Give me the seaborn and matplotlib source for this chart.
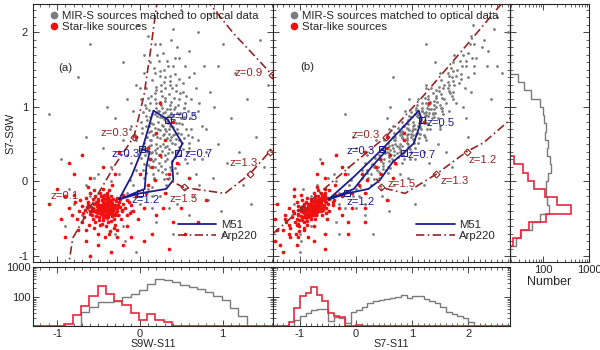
import numpy as np
import pandas as pd
import matplotlib
matplotlib.use("Agg")
import matplotlib.pyplot as plt
import seaborn as sns
from matplotlib.lines import Line2D
from matplotlib.ticker import MultipleLocator, LogLocator, NullFormatter

# ---- scatter data, panel (a) coordinates: (S9W-S11, S7-S9W) ----
gray_pts = [
    (0.22, 0.95), (0.31, 1.12), (0.18, 0.72), (0.40, 0.88), (0.27, 0.41), (0.12, 1.05), (0.35, 0.63), (0.05, 0.52), (0.44, 1.21), (0.29, 1.34),
    (0.16, 0.28), (0.38, 0.15), (0.21, 0.60), (0.51, 0.77), (0.09, 0.83), (0.33, 0.97), (0.25, 1.48), (0.47, 0.46), (0.02, 0.31), (0.19, 1.18),
    (0.36, 1.02), (0.14, 0.49), (0.28, 0.74), (0.55, 1.05), (0.07, 0.12), (0.42, 0.33), (0.24, 0.86), (0.31, 0.55), (0.11, 0.67), (0.49, 0.92),
    (0.20, 1.27), (0.37, 1.41), (0.26, 0.21), (0.58, 0.62), (0.04, 0.93), (0.33, 0.81), (0.17, 0.05), (0.45, 0.70), (0.23, 1.62), (0.39, 0.52),
    (0.13, 0.38), (0.30, 1.08), (0.52, 1.32), (0.08, 0.75), (0.27, 0.99), (0.43, 0.18), (0.35, 0.43), (0.19, 0.91), (0.61, 0.85), (0.00, 0.44),
    (0.24, 0.58), (0.41, 1.12), (0.15, 1.36), (0.32, 0.68), (0.48, 0.55), (0.10, 0.22), (0.29, 0.03), (0.36, 0.89), (0.21, 0.45), (0.54, 0.99),
    (0.06, 1.02), (0.26, 1.21), (0.44, 0.79), (0.18, 0.64), (0.34, 1.55), (0.39, 0.27), (0.12, 0.86), (0.57, 0.40), (0.23, 0.35), (0.31, 0.93),
    (0.46, 1.03), (0.16, 0.10), (0.28, 0.50), (0.50, 0.63), (0.03, 0.65), (0.37, 0.74), (0.20, 1.05), (0.42, 1.44), (0.25, 0.69), (0.14, 0.56),
    (0.33, 0.30), (0.53, 0.86), (0.09, 0.40), (0.30, 1.25), (0.47, 0.24), (0.22, 0.80), (0.38, 0.60), (0.62, 1.10), (0.13, 1.15), (0.27, 0.13),
    (0.41, 0.97), (0.18, 0.42), (0.35, 1.17), (0.05, 0.24), (0.29, 0.84), (0.56, 0.71), (0.21, 1.70), (0.44, 0.57), (0.11, 0.96), (0.34, 0.38),
    (0.26, 1.30), (0.49, 1.18), (0.16, 0.77), (0.31, 0.17), (0.40, 0.73), (0.07, 0.59), (0.24, 1.07), (0.59, 0.51), (0.19, 0.30), (0.36, 1.30),
    (0.28, 0.62), (0.45, 0.92), (0.12, 0.19), (0.33, 0.48), (0.52, 0.44), (0.20, 0.98), (0.38, 1.06), (0.08, 1.25), (0.27, 0.87), (0.43, 0.64),
    (0.17, 1.52), (0.31, 0.71), (0.48, 1.38), (0.01, 0.80), (0.23, 0.25), (0.37, 0.97), (0.14, 0.68), (0.55, 0.30), (0.30, 0.46), (0.25, 1.85),
    (0.20, 0.50), (0.34, 0.78), (0.15, 0.90), (0.42, 1.00), (0.26, 0.33), (0.09, 0.60), (0.37, 0.20), (0.30, 1.40), (0.50, 0.85), (0.18, 1.10),
    (0.45, 0.40), (0.22, 0.70), (0.06, 0.35), (0.39, 1.25), (0.28, 0.92), (0.54, 0.58), (0.13, 0.78), (0.32, 0.10), (0.47, 1.10), (0.24, 1.42),
    (0.36, 0.55), (0.11, 0.48), (0.41, 0.82), (0.19, 0.20), (0.58, 0.95), (0.27, 1.15), (0.03, 0.72), (0.49, 0.35), (0.33, 1.62), (0.16, 0.62),
    (0.43, 0.50), (0.21, 0.88), (0.62, 0.70), (0.08, 0.98), (0.35, 0.05), (0.29, 0.64), (0.52, 1.20), (0.14, 0.30), (0.40, 1.55), (0.25, 0.47),
    (0.57, 0.25), (0.10, 1.12), (0.31, 0.36), (0.46, 0.65), (0.18, 1.45), (0.38, 0.92), (0.04, 0.15), (0.27, 0.76), (0.53, 0.98), (0.22, 0.15),
    (0.44, 1.30), (0.12, 0.55), (0.35, 0.70), (0.60, 0.45), (0.20, 1.22), (0.30, 0.28), (0.48, 0.78), (0.07, 0.88), (0.39, 0.40), (0.26, 1.02),
    (0.65, 0.90), (0.15, 0.40), (0.42, 1.65), (0.33, 0.58), (0.01, 1.10), (0.51, 0.52), (0.23, 0.95), (0.37, 1.35), (0.17, 0.03), (0.45, 0.12),
    (0.29, 1.50), (0.56, 1.15), (0.11, 0.75), (0.34, 0.88), (0.20, 0.38), (0.47, 0.90), (0.06, 0.45), (0.40, 0.62), (0.28, 1.72), (0.63, 0.60),
    (-0.05, 0.55), (0.70, 0.55), (0.00, 1.25), (0.68, 1.25), (-0.10, 0.25), (0.75, 0.75), (0.12, 1.60), (0.55, 1.55), (-0.08, 0.95), (0.72, 1.05),
    (0.18, 1.85), (0.60, 1.40), (0.38, 1.90), (0.05, 1.45), (0.80, 0.40), (-0.12, 0.70), (0.48, 1.65), (0.15, -0.08), (0.66, 0.30), (0.32, -0.15),
    (-0.15, 0.35), (0.70, 0.95), (-0.05, 1.30), (0.75, 0.30), (0.65, 1.45), (-0.25, 0.10), (0.80, 0.70), (-0.10, 0.75), (0.68, 0.10), (0.05, 1.70),
    (0.85, 1.20), (-0.20, 0.55), (0.72, -0.05), (0.45, 1.80), (-0.35, 0.20), (0.95, 0.50), (0.60, 1.75), (-0.08, -0.05), (0.90, 1.00), (0.10, 1.95),
    (-0.30, 0.85), (1.05, 0.25), (0.78, 1.55), (-0.15, 1.10), (0.40, 2.05), (0.88, 0.05), (-0.45, 0.45), (1.10, 0.85), (0.66, -0.20), (-0.02, 2.10),
    (0.55, -0.10), (1.20, 0.40), (-0.55, 0.05), (0.95, 1.55), (0.30, 2.20), (-0.40, 1.00), (1.30, 1.10), (0.82, -0.25), (-0.65, 0.60), (1.00, 1.85),
    (0.15, -0.20), (1.25, -0.05), (-0.75, 1.40), (0.50, 2.30), (1.40, 0.60), (-0.85, -0.10), (0.70, 2.00), (1.15, 1.45), (-0.20, 1.60), (0.98, -0.40),
    (1.45, 1.90), (-0.95, 0.30), (0.35, -0.35), (1.50, 0.20), (-0.60, 1.85), (0.20, -0.55), (1.35, -0.30), (-1.10, 0.90), (0.85, 2.25), (1.55, 1.30),
    (-0.30, -0.25), (-0.15, -0.15), (-0.45, -0.10), (0.00, -0.30), (-0.25, -0.45), (-0.55, -0.35), (0.10, -0.10), (-0.35, 0.00), (-0.10, -0.40), (-0.60, -0.20),
    (0.05, 0.05), (-0.20, -0.60), (-0.40, -0.50), (-0.05, 0.15), (-0.70, -0.45), (0.15, -0.35), (-0.50, 0.10), (-0.30, -0.70), (0.25, -0.20), (-0.65, -0.05),
    (-0.12, 0.02), (-0.80, -0.30), (0.32, -0.05), (-0.18, -0.80), (0.45, -0.30), (-0.90, -0.60), (0.60, -0.45), (-0.05, -0.95), (0.40, -0.70), (1.00, -0.70),
]

red_pts = [
    (-0.42, -0.35), (-0.38, -0.30), (-0.48, -0.38), (-0.35, -0.42), (-0.45, -0.28), (-0.52, -0.33), (-0.40, -0.40), (-0.33, -0.35), (-0.47, -0.44), (-0.44, -0.22),
    (-0.55, -0.40), (-0.36, -0.25), (-0.41, -0.48), (-0.30, -0.32), (-0.50, -0.26), (-0.39, -0.37), (-0.58, -0.35), (-0.27, -0.40), (-0.46, -0.31), (-0.34, -0.46),
    (-0.43, -0.18), (-0.53, -0.46), (-0.37, -0.33), (-0.62, -0.30), (-0.29, -0.26), (-0.49, -0.52), (-0.40, -0.27), (-0.32, -0.38), (-0.57, -0.24), (-0.44, -0.42),
    (-0.24, -0.34), (-0.51, -0.37), (-0.38, -0.55), (-0.66, -0.38), (-0.35, -0.20), (-0.46, -0.36), (-0.26, -0.45), (-0.60, -0.44), (-0.42, -0.30), (-0.31, -0.50),
    (-0.54, -0.20), (-0.40, -0.15), (-0.20, -0.30), (-0.48, -0.58), (-0.70, -0.33), (-0.36, -0.39), (-0.45, -0.47), (-0.28, -0.22), (-0.63, -0.27), (-0.33, -0.29),
    (-0.50, -0.42), (-0.22, -0.40), (-0.41, -0.60), (-0.56, -0.50), (-0.37, -0.12), (-0.73, -0.40), (-0.18, -0.36), (-0.47, -0.20), (-0.30, -0.58), (-0.60, -0.15),
    (-0.43, -0.33), (-0.52, -0.29), (-0.34, -0.35), (-0.39, -0.45), (-0.25, -0.28), (-0.67, -0.48), (-0.45, -0.10), (-0.15, -0.25), (-0.55, -0.62), (-0.36, -0.66),
    (-0.78, -0.28), (-0.12, -0.42), (-0.49, -0.32), (-0.40, -0.35), (-0.31, -0.43), (-0.58, -0.40), (-0.23, -0.50), (-0.44, -0.26), (-0.65, -0.22), (-0.38, -0.22),
    (-0.82, -0.45), (-0.20, -0.18), (-0.50, -0.70), (-0.28, -0.65), (-0.70, -0.55), (-0.10, -0.32), (-0.62, -0.08), (-0.33, -0.05), (-0.85, -0.35), (-0.42, -0.75),
    (-0.41, -0.36), (-0.44, -0.34), (-0.39, -0.32), (-0.47, -0.40), (-0.36, -0.37), (-0.50, -0.35), (-0.43, -0.29), (-0.40, -0.43), (-0.34, -0.31), (-0.53, -0.41),
    (-0.46, -0.25), (-0.38, -0.48), (-0.31, -0.36), (-0.55, -0.30), (-0.42, -0.39), (-0.48, -0.31), (-0.35, -0.28), (-0.45, -0.52), (-0.29, -0.41), (-0.57, -0.37),
    (-0.37, -0.44), (-0.51, -0.23), (-0.43, -0.45), (-0.32, -0.24), (-0.60, -0.39), (-0.40, -0.21), (-0.27, -0.35), (-0.49, -0.47), (-0.35, -0.53), (-0.53, -0.28),
    (-0.44, -0.38), (-0.38, -0.26), (-0.47, -0.34), (-0.33, -0.40), (-0.58, -0.45), (-0.42, -0.24), (-0.30, -0.45), (-0.52, -0.38), (-0.36, -0.31), (-0.64, -0.34),
    (-0.26, -0.31), (-0.46, -0.57), (-0.39, -0.18), (-0.54, -0.55), (-0.21, -0.38), (-0.68, -0.42), (-0.31, -0.62), (-0.48, -0.15), (-0.24, -0.24), (-0.61, -0.58),
    (-0.16, -0.45), (-0.72, -0.25), (-0.37, -0.70), (-0.55, -0.12), (-0.13, -0.28), (-0.76, -0.50), (-0.28, -0.75), (-0.65, -0.65), (-0.08, -0.40), (-0.80, -0.18),
    (-0.05, -0.20), (0.05, -0.35), (-0.90, -0.20), (-0.60, 0.05), (0.10, -0.05), (-0.75, -0.65), (-0.15, -0.60), (0.20, -0.45), (-0.95, -0.50), (-0.30, 0.10),
    (0.15, 0.20), (-0.50, -0.85), (0.30, -0.15), (-0.80, 0.10), (0.00, 0.10), (0.25, 0.35), (-0.20, -0.85), (-1.00, -0.10), (0.40, -0.55), (-0.65, -0.80),
    (0.10, 0.45), (0.35, 0.10), (-0.45, 0.20), (0.20, 0.65), (-0.10, -0.75), (0.45, 0.25), (-0.85, 0.25), (0.05, -0.80), (0.30, 0.55), (-0.35, -0.95),
    (0.50, -0.35), (-1.10, -0.30), (0.15, -0.70), (0.40, 0.80), (-0.70, 0.35), (0.60, 0.05), (-0.25, 0.40), (0.55, -0.70), (-0.90, -0.75), (0.70, -0.55),
    (0.25, 1.05), (-0.05, 0.60), (0.35, -0.90), (-0.60, -1.00), (0.80, -0.25), (0.18, 0.02), (0.08, -0.15), (-0.02, -0.50), (0.28, -0.35), (0.12, 0.30),
]

# ---- template tracks, panel (a) coordinates ----
m51_x = [-0.25, -0.10, 0.03, 0.165, 0.34, 0.515, 0.465, 0.39, 0.405, 0.32, 0.00, -0.25, 0.06, 0.08, 0.12, 0.03]
m51_y = [-0.24, 0.07, 0.43, 0.95, 0.83, 0.51, 0.385, 0.26, 0.02, -0.10, -0.16, -0.24, -0.10, 0.20, 0.40, 0.43]
m51_z_idx = [2, 4, 6, 10]          # z = 0.3, 0.5, 0.7, 1.2

arp_x = [-0.87, -0.81, -0.60, -0.30, -0.07, 0.05, 0.13, 0.20, 0.30, 0.60, 0.81, 1.13, 1.60, 1.85, 1.90, 1.75, 1.57, 1.33, 1.03, 0.53, 0.32]
arp_y = [-1.20, -0.76, -0.35, 0.22, 0.60, 1.15, 1.75, 2.34, 2.90, 2.80, 2.43, 1.99, 1.43, 1.10, 0.80, 0.52, 0.40, 0.10, -0.16, -0.08, 0.04]
arp_z_idx = [2, 4, 12, 16, 17, 19]  # z = 0.1, 0.3, 0.9, 1.2, 1.3, 1.5

# ---- histograms ----
bins_a = np.round(np.arange(-1.31, 1.70, 0.1), 2)
gray_hist_a = [0, 0, 0, 0, 0, 0, 33, 46, 67, 70, 74, 102, 125, 179, 282, 392, 363, 320, 249, 225,
               193, 150, 111, 80, 42, 24, 0, 0, 0, 0]
red_hist_a = [0, 0, 0, 0, 13, 25, 50, 108, 236, 129, 74, 54, 29, 17, 27, 17, 15, 0, 0, 0,
              0, 0, 0, 0, 0, 0, 0, 0, 0, 0]

bins_b = np.round(np.arange(-1.5, 2.81, 0.1), 2)
gray_hist_b = [0, 0, 0, 0, 17.5, 24, 29, 37, 40, 39, 16, 22.5, 20, 13.6, 31, 37, 48, 62, 74, 80,
               86, 95, 103, 116, 95, 108, 108, 90, 74, 62, 48, 31, 27, 24, 21, 15, 0, 0, 0, 0,
               0, 0, 0]
red_hist_b = [0, 0, 0, 14.6, 42, 111, 132, 219, 122, 74, 29, 24, 22, 0, 0, 12, 0, 0, 0, 0,
              0, 0, 0, 0, 0, 0, 0, 0, 0, 0, 0, 0, 0, 0, 0, 0, 0, 0, 0, 0,
              0, 0, 0]

bins_y = np.round(np.arange(-1.09, 2.44, 0.11), 2)
gray_hist_y = [0, 0, 26, 31, 56, 87, 135, 122, 114, 114, 129, 152, 140, 124, 129, 110, 114, 105, 100, 84.5,
               55.5, 37.7, 28.4, 0, 0, 0, 0, 0, 0, 0, 0, 0]
red_hist_y = [0, 0, 22, 33, 50, 118, 400, 196, 109, 62, 47, 36, 23, 0, 0, 0, 0, 0, 0, 0,
              0, 0, 0, 0, 0, 0, 0, 0, 0, 0, 0, 0]

GRAY = "#7c7c7c"
RED = "#f01010"
HRED = "#e8283c"
NAVY = "#1c1c8c"
BROWN = "#962424"
FS = 8.2

sns.set_theme(style="ticks")
plt.rcParams['font.family'] = ['Liberation Sans', 'DejaVu Sans']
plt.rcParams.update({
    "xtick.labelsize": 8, "ytick.labelsize": 8, "axes.labelsize": 8,
    "axes.linewidth": 0.8, "xtick.direction": "in", "ytick.direction": "in",
    "axes.unicode_minus": False,
})

gray_df = pd.DataFrame(gray_pts, columns=["s9w_s11", "s7_s9w"])
red_df = pd.DataFrame(red_pts, columns=["s9w_s11", "s7_s9w"])
for d in (gray_df, red_df):
    d["s7_s11"] = d["s9w_s11"] + d["s7_s9w"]

m51 = pd.DataFrame({"a": m51_x, "y": m51_y})
m51["b"] = m51["a"] + m51["y"]
arp = pd.DataFrame({"a": arp_x, "y": arp_y})
arp["b"] = arp["a"] + arp["y"]

fig = plt.figure(figsize=(6, 3.5), dpi=100)
W, H = 600, 350


def box(l, t, r, b):
    return [l / W, 1 - b / H, (r - l) / W, (b - t) / H]


ax_a = fig.add_axes(box(33, 4, 273, 262))
ax_b = fig.add_axes(box(273, 4, 510, 262))
ax_r = fig.add_axes(box(510, 4, 589, 262))
hx_a = fig.add_axes(box(33, 267, 273, 326))
hx_b = fig.add_axes(box(273, 267, 510, 326))

YLIM = (-1.08, 2.38)
XLIM_A = (-1.29, 1.61)
XLIM_B = (-1.48, 2.74)

for ax, col, xlim in [(ax_a, "a", XLIM_A), (ax_b, "b", XLIM_B)]:
    xcol = "s9w_s11" if col == "a" else "s7_s11"
    sns.scatterplot(data=gray_df, x=xcol, y="s7_s9w", color=GRAY, s=4, linewidth=0, ax=ax, legend=False)
    sns.scatterplot(data=red_df, x=xcol, y="s7_s9w", color=RED, s=7, linewidth=0, ax=ax, legend=False)
    ax.plot(m51[col], m51["y"], color=NAVY, lw=1.3)
    ax.plot(m51[col].iloc[m51_z_idx], m51["y"].iloc[m51_z_idx], ls="", marker="s",
            mfc="none", mec=NAVY, ms=4, mew=0.8)
    ax.plot(arp[col], arp["y"], color=BROWN, lw=1.2, dashes=(5, 2, 1, 2))
    ax.plot(arp[col].iloc[arp_z_idx], arp["y"].iloc[arp_z_idx], ls="", marker="D",
            mfc="none", mec=BROWN, ms=3.5, mew=0.8)
    ax.set_xlim(*xlim)
    ax.set_ylim(*YLIM)
    ax.xaxis.set_major_locator(MultipleLocator(1))
    ax.xaxis.set_minor_locator(MultipleLocator(0.1))
    ax.yaxis.set_major_locator(MultipleLocator(1))
    ax.yaxis.set_minor_locator(MultipleLocator(0.1))
    ax.tick_params(which="both", top=True, right=True, labelbottom=False)
    ax.tick_params(which="major", length=4, width=0.6)
    ax.tick_params(which="minor", length=2, width=0.5)
    ax.set_xlabel("")
    ax.set_ylabel("")

    top_leg = ax.legend(handles=[
        Line2D([], [], ls="", marker="o", color=GRAY, ms=4.5),
        Line2D([], [], ls="", marker="o", color=RED, ms=4.5)],
        labels=["MIR-S sources matched to optical data", "Star-like sources"],
        loc="upper left", bbox_to_anchor=(0.03, 1.0), frameon=False, fontsize=FS,
        handletextpad=0.1, labelspacing=0.1, borderaxespad=0.2, handlelength=1.2)
    ax.add_artist(top_leg)
    ax.legend(handles=[
        Line2D([], [], color=NAVY, lw=1.3),
        Line2D([], [], color=BROWN, lw=1.2, dashes=(5, 2, 1, 2))],
        labels=["M51", "Arp220"], loc="lower left", bbox_to_anchor=(0.56, 0.04),
        frameon=False, fontsize=FS, handlelength=3.4, handletextpad=0.4, labelspacing=0.1)

ax_a.set_ylabel("S7-S9W", labelpad=2)
ax_b.tick_params(labelleft=False)
ax_a.text(-0.99, 1.52, "(a)", fontsize=FS, va="center")
ax_b.text(-1.0, 1.53, "(b)", fontsize=FS, va="center")

lab = dict(fontsize=FS, va="center", ha="left")
for t, x, y in [("z=0.5", 0.36, 0.87), ("z=0.3", -0.34, 0.37), ("z=0.7", 0.54, 0.37), ("z=1.2", -0.10, -0.25)]:
    ax_a.text(x, y, t, color=NAVY, **lab)
for t, x, y in [("z=0.1", -1.08, -0.20), ("z=0.3", -0.48, 0.65), ("z=0.9", 1.15, 1.45),
                ("z=1.3", 1.09, 0.25), ("z=1.5", 0.36, -0.23)]:
    ax_a.text(x, y, t, color=BROWN, **lab)
for t, x, y in [("z=0.5", 1.25, 0.79), ("z=0.3", -0.18, 0.41), ("z=0.7", 0.91, 0.36), ("z=1.2", -0.18, -0.27)]:
    ax_b.text(x, y, t, color=NAVY, **lab)
for t, x, y in [("z=0.3", -0.09, 0.625), ("z=1.2", 2.0, 0.29), ("z=1.3", 1.51, 0.01), ("z=1.5", 0.56, -0.04)]:
    ax_b.text(x, y, t, color=BROWN, **lab)

# bottom histograms
for hx, bins, g, r, xlim, xl in [(hx_a, bins_a, gray_hist_a, red_hist_a, XLIM_A, "S9W-S11"),
                                  (hx_b, bins_b, gray_hist_b, red_hist_b, XLIM_B, "S7-S11")]:
    hx.set_yscale("log")
    hx.set_ylim(11, 1000)
    hx.stairs(np.clip(g, 11, None), bins, color="#7a7a7a", lw=1.0)
    hx.stairs(np.clip(r, 11, None), bins, color=HRED, lw=1.2)
    hx.set_xlim(*xlim)
    hx.xaxis.set_major_locator(MultipleLocator(1))
    hx.xaxis.set_minor_locator(MultipleLocator(0.1))
    hx.set_yticks([100, 1000])
    hx.set_yticklabels(["100", "1000"])
    hx.yaxis.set_minor_locator(LogLocator(base=10, subs=np.arange(2, 10)))
    hx.yaxis.set_minor_formatter(NullFormatter())
    hx.tick_params(which="both", top=True, right=True)
    hx.tick_params(which="major", length=4, width=0.6, pad=2)
    hx.tick_params(which="minor", length=2, width=0.5)
    hx.set_xlabel(xl, labelpad=0, fontsize=7.8)
hx_b.tick_params(labelleft=False)

# right histogram
ax_r.set_xscale("log")
ax_r.set_xlim(19, 1000)
ax_r.set_ylim(*YLIM)
ax_r.stairs(np.clip(gray_hist_y, 19, None), bins_y, orientation="horizontal", color="#7a7a7a", lw=1.0)
ax_r.stairs(np.clip(red_hist_y, 19, None), bins_y, orientation="horizontal", color=HRED, lw=1.2)
ax_r.set_xticks([100, 1000])
ax_r.set_xticklabels(["100", "1000"])
ax_r.xaxis.set_minor_locator(LogLocator(base=10, subs=np.arange(2, 10)))
ax_r.xaxis.set_minor_formatter(NullFormatter())
ax_r.yaxis.set_major_locator(MultipleLocator(1))
ax_r.yaxis.set_minor_locator(MultipleLocator(0.1))
ax_r.tick_params(which="both", top=True, right=True, labelleft=False)
ax_r.tick_params(which="major", length=4, width=0.6, pad=2)
ax_r.tick_params(which="minor", length=2, width=0.5)
ax_r.set_xlabel("Number", fontsize=9, labelpad=1)

fig.savefig("out.png", dpi=100)
